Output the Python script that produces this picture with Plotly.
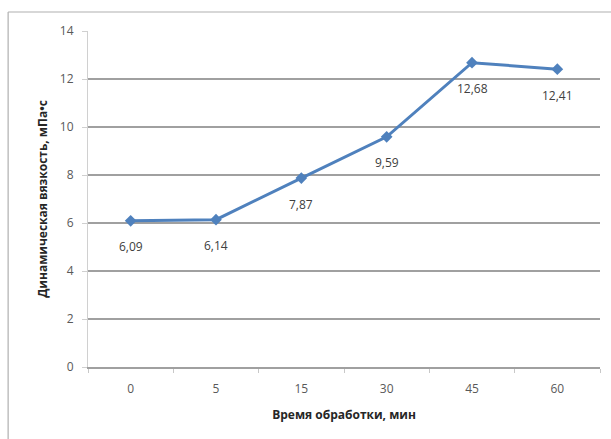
import plotly.graph_objects as go

# Treatment time categories (minutes) and dynamic viscosity values (mPa·s)
time_labels = ["0", "5", "15", "30", "45", "60"]
viscosity = [6.09, 6.14, 7.87, 9.59, 12.68, 12.41]
value_text = [f"{v:.2f}".replace(".", ",") for v in viscosity]

y_ticks = [0, 2, 4, 6, 8, 10, 12, 14]

font_family = "Open Sans, Liberation Sans, sans-serif"

fig = go.Figure()
fig.add_trace(go.Scatter(
    x=time_labels,
    y=viscosity,
    mode="lines+markers",
    line=dict(color="#4f81bd", width=3),
    marker=dict(symbol="diamond", size=9, color="#4f81bd"),
    cliponaxis=False,
    showlegend=False,
))

# value labels under each point (category axis positions are indices)
annotations = [
    dict(x=i, y=v, xref="x", yref="y", text=s, showarrow=False,
         yshift=-26, font=dict(family=font_family, size=12, color="#404040"))
    for i, (v, s) in enumerate(zip(viscosity, value_text))
]

fig.update_layout(
    width=611,
    height=439,
    margin=dict(l=88, r=11, t=31, b=72),
    paper_bgcolor="white",
    plot_bgcolor="white",
    font=dict(family=font_family, size=12, color="#595959"),
    annotations=annotations,
    xaxis=dict(
        type="category",
        categoryorder="array",
        categoryarray=time_labels,
        range=[-0.5, len(time_labels) - 0.5],
        showgrid=False,
        showline=True,
        linecolor="#a0a0a0",
        linewidth=1.5,
        ticks="outside",
        ticklen=4,
        tickcolor="#c8c8c8",
        tickson="boundaries",
        ticklabelstandoff=10,
        tickfont=dict(size=12, color="#595959"),
        title=dict(
            text="<b>Время обработки, мин</b>",
            font=dict(size=12, color="#262626"),
            standoff=14,
        ),
        zeroline=False,
    ),
    yaxis=dict(
        range=[0, 14],
        tickvals=y_ticks,
        showgrid=True,
        gridcolor="#a0a0a0",
        gridwidth=1.5,
        showline=True,
        linecolor="#d0d0d0",
        linewidth=1,
        ticks="outside",
        ticklen=5,
        tickcolor="#d0d0d0",
        ticklabelstandoff=6,
        tickfont=dict(size=12, color="#595959"),
        zeroline=False,
        title=dict(
            text="<b>Динамическая вязкость, мПа•с</b>",
            font=dict(size=12, color="#262626"),
            standoff=9,
        ),
    ),
    shapes=[
        # chart frame: top and left edges
        dict(type="line", xref="paper", yref="paper",
             x0=-0.156, x1=1.03, y0=1.0565, y1=1.0565,
             line=dict(color="#b0b0b0", width=1.2)),
        dict(type="line", xref="paper", yref="paper",
             x0=-0.156, x1=-0.156, y0=1.0565, y1=-0.215,
             line=dict(color="#b0b0b0", width=1.2)),
    ],
)

fig.write_html("out.html")
